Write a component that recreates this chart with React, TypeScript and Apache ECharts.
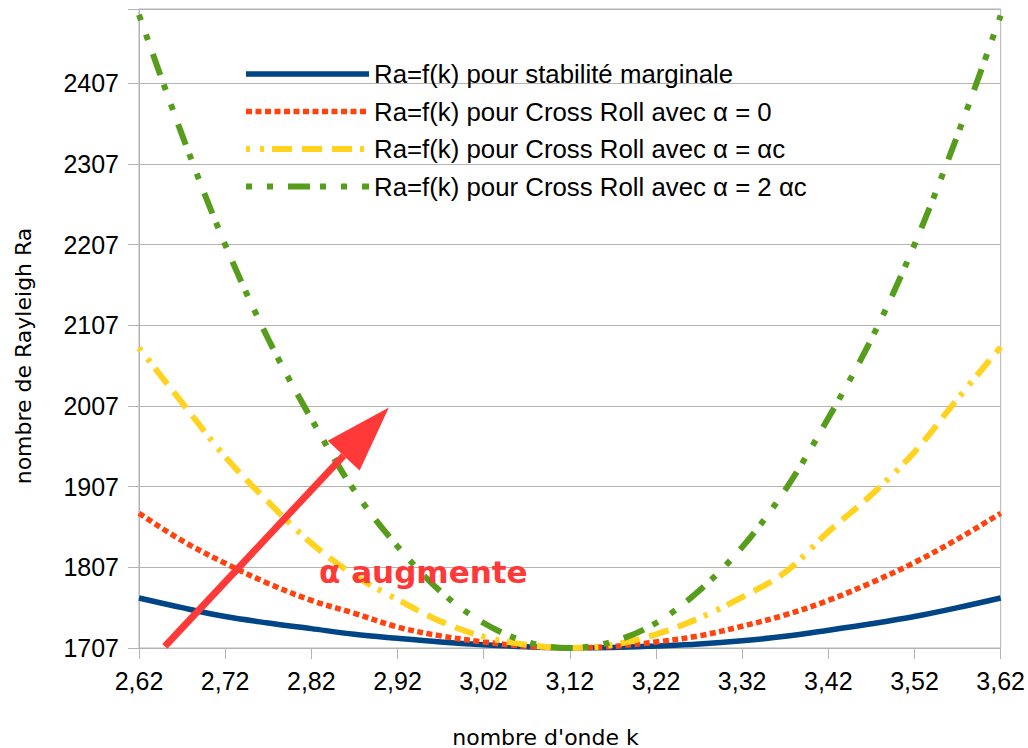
import React, { useEffect, useRef } from "react";
import * as echarts from "echarts";

// ---- data ----
const kValues = [2.62, 2.67, 2.72, 2.77, 2.82, 2.87, 2.92, 2.97, 3.02, 3.07, 3.12, 3.17, 3.22, 3.27, 3.32, 3.37, 3.42, 3.47, 3.52, 3.57, 3.62];
const raMarginal = [1769, 1757, 1746, 1738, 1731, 1724, 1719, 1714.5, 1711, 1708.5, 1707, 1707.5, 1709.5, 1712, 1716, 1721.5, 1729, 1737, 1746, 1757, 1769];
const raAlpha0 = [1874, 1840, 1812, 1787, 1766, 1750, 1733, 1722, 1714.5, 1709, 1707, 1709, 1714.5, 1722, 1734, 1748, 1766, 1788, 1813, 1842, 1874];
const raAlphaC = [2079, 2011, 1944, 1888, 1837, 1797, 1767, 1740, 1721, 1711, 1707, 1711, 1724, 1744, 1770, 1801, 1851, 1897, 1950, 2016, 2080];
const raAlpha2C = [2492, 2343, 2207, 2090, 1991, 1902, 1833, 1777, 1738, 1714.5, 1707, 1715, 1738, 1778, 1832, 1903, 1992, 2090, 2207, 2343, 2491];
const seriesNames = [
  "Ra=f(k) pour stabilité marginale",
  "Ra=f(k) pour Cross Roll avec α = 0",
  "Ra=f(k) pour Cross Roll avec α = αc",
  "Ra=f(k) pour Cross Roll avec α = 2 αc",
];
const xTickLabels = ["2,62", "2,72", "2,82", "2,92", "3,02", "3,12", "3,22", "3,32", "3,42", "3,52", "3,62"];
const yTickLabels = ["1707", "1807", "1907", "2007", "2107", "2207", "2307", "2407"];
const K_MIN = 2.62;
const K_MAX = 3.62;
const RA_MIN = 1707;
const RA_MAX = 2499;
const xTitle = "nombre d'onde k";
const yTitle = "nombre de Rayleigh Ra";
const annotation = "α augmente";
// arrow in data coordinates (k, Ra)
const arrowStart = [2.65, 1709];
const arrowTip = [2.91, 2005];
const arrowBaseA = [2.839, 1964];
const arrowBaseB = [2.876, 1927];
const annotationPos = [2.95, 1801];

const colors = ["#004586", "#ff420e", "#ffd320", "#579d1c"];
const dashes: any[] = ["solid", [6, 3.5], [4, 10, 4, 8, 20, 10, 20, 10, 20, 8], [6, 15, 6, 15, 22, 10]];
const widths = [5.5, 5.5, 6, 6];

const LAB = "'Liberation Sans', Arial, sans-serif";
const DJV = "'DejaVu Sans', sans-serif";

export default function App() {
  const ref = useRef<HTMLDivElement>(null);
  useEffect(() => {
    if (!ref.current) return;
    const chart = echarts.init(ref.current, undefined, { renderer: "svg" });
    const allSeries = [raMarginal, raAlpha0, raAlphaC, raAlpha2C];
    const option: any = {
      animation: false,
      backgroundColor: "#ffffff",
      grid: {
        left: 139,
        right: 27,
        top: 9,
        bottom: 100,
        show: true,
        borderColor: "#b3b3b3",
        borderWidth: 1,
        backgroundColor: "transparent",
      },
      legend: {
        orient: "vertical",
        left: 243,
        top: 61,
        padding: 0,
        itemWidth: 123,
        itemHeight: 14,
        itemGap: 11.5,
        itemStyle: { opacity: 0 },
        lineStyle: { width: "inherit", type: "inherit" },
        textStyle: { fontFamily: LAB, fontSize: 25.8, color: "#000", lineHeight: 26 },
        data: seriesNames,
      },
      xAxis: {
        type: "value",
        min: 0,
        max: K_MAX - K_MIN,
        interval: 0.1,
        axisLine: { show: true, lineStyle: { color: "#b3b3b3", width: 1 } },
        axisTick: { show: true, length: 11, lineStyle: { color: "#b3b3b3" } },
        splitLine: { show: false },
        axisLabel: {
          margin: 20,
          fontFamily: LAB,
          fontSize: 25,
          color: "#000",
          formatter: (_v: number, idx: number) => xTickLabels[idx] ?? "",
        },
      },
      yAxis: {
        type: "value",
        min: 0,
        max: RA_MAX - RA_MIN,
        interval: 100,
        axisLine: { show: true, lineStyle: { color: "#b3b3b3", width: 1 } },
        axisTick: { show: true, length: 11, lineStyle: { color: "#b3b3b3" } },
        splitLine: { show: true, lineStyle: { color: "#b3b3b3", width: 1 } },
        axisLabel: {
          margin: 20,
          fontFamily: LAB,
          fontSize: 25,
          color: "#000",
          formatter: (_v: number, idx: number) => yTickLabels[idx] ?? "",
        },
      },
      series: allSeries.map((arr, i) => ({
        name: seriesNames[i],
        type: "line",
        symbol: "none",
        smooth: 0.35,
        data: arr.map((ra, j) => [kValues[j] - K_MIN, ra - RA_MIN]),
        lineStyle: { color: colors[i], width: widths[i], type: dashes[i], cap: "butt" },
        itemStyle: { color: colors[i] },
        z: 2 + i,
      })),
    };
    chart.setOption(option);

    const px = (p: number[]) =>
      chart.convertToPixel({ xAxisIndex: 0, yAxisIndex: 0 }, [p[0] - K_MIN, p[1] - RA_MIN]) as number[];
    const s = px(arrowStart);
    const t = px(arrowTip);
    const a = px(arrowBaseA);
    const b = px(arrowBaseB);
    const mid = [(a[0] + b[0]) / 2, (a[1] + b[1]) / 2];
    const txt = px(annotationPos);
    chart.setOption({
      graphic: [
        {
          type: "line",
          z: 100,
          shape: { x1: s[0], y1: s[1], x2: mid[0], y2: mid[1] },
          style: { stroke: "#ff3838", lineWidth: 7, lineCap: "butt" },
        },
        {
          type: "polygon",
          z: 100,
          shape: { points: [t, a, b] },
          style: { fill: "#ff3838" },
        },
        {
          type: "text",
          z: 101,
          x: txt[0],
          y: txt[1],
          style: {
            text: annotation,
            fill: "#ff3838",
            font: `bold 31px ${DJV}`,
            textAlign: "center",
            textVerticalAlign: "middle",
          },
        },
        {
          type: "text",
          x: 545.5,
          y: 737,
          style: {
            text: xTitle,
            fill: "#000",
            font: `22px ${DJV}`,
            textAlign: "center",
            textVerticalAlign: "middle",
          },
        },
        {
          type: "text",
          x: 23,
          y: 356,
          rotation: Math.PI / 2,
          style: {
            text: yTitle,
            fill: "#000",
            font: `22px ${DJV}`,
            textAlign: "center",
            textVerticalAlign: "middle",
          },
        },
      ],
    });
    return () => chart.dispose();
  }, []);
  return (
    <div
      ref={ref}
      style={{ position: "fixed", left: 0, top: 0, width: 1028, height: 748, background: "#fff" }}
    />
  );
}
